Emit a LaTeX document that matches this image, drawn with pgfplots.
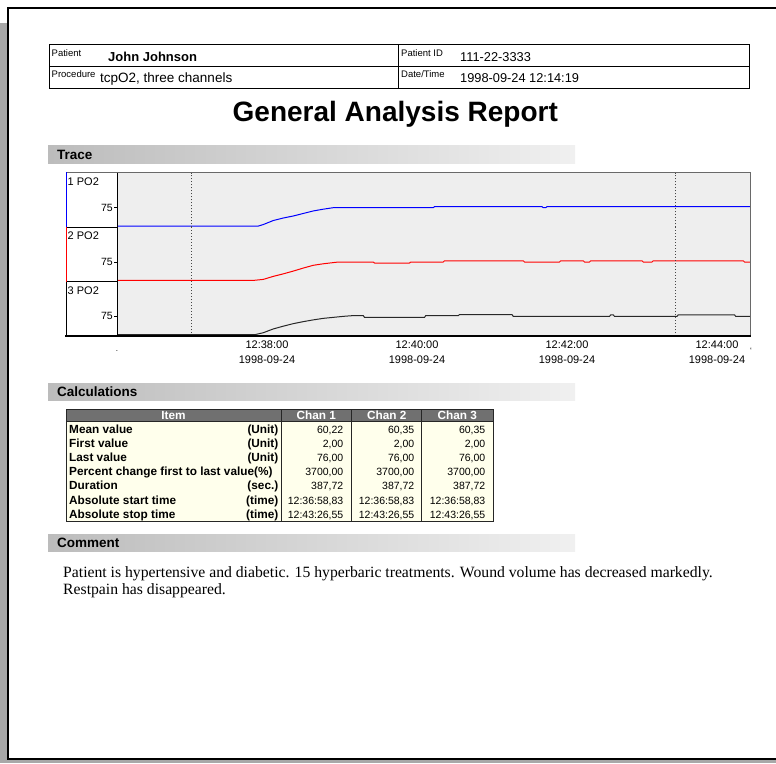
\documentclass[border=0pt]{standalone}
\usepackage{pgfplots}
\pgfplotsset{compat=1.18}
\usepackage{fontspec}
\setmainfont{Liberation Sans}
\newfontfamily\timesf{Liberation Serif}
\definecolor{shadow}{RGB}{168,168,168}
\definecolor{plotbg}{RGB}{238,238,238}
\definecolor{barL}{RGB}{188,188,188}
\definecolor{barR}{RGB}{240,240,240}
\definecolor{thead}{RGB}{112,112,112}
\definecolor{tbody}{RGB}{255,255,236}
\definecolor{frameg}{RGB}{105,105,105}
\definecolor{dotc}{RGB}{70,70,70}
\definecolor{trblue}{RGB}{0,0,255}
\definecolor{trred}{RGB}{255,0,0}
\definecolor{trblack}{RGB}{40,40,40}
\newcommand\fs[1]{\fontsize{#1}{#1}\selectfont}
% one row of the calculations table: y, label, unit, chan1, chan2, chan3
\newcommand\calcrow[6]{%
  \node[anchor=base west, inner sep=0] at (69,#1) {\fs{11.8}\bfseries #2};
  \node[anchor=base east, inner sep=0] at (278.5,#1) {\fs{11.8}\bfseries #3};
  \node[anchor=base east, inner sep=0] at (343.5,#1) {\fs{10.5}#4};
  \node[anchor=base east, inner sep=0] at (414.5,#1) {\fs{10.5}#5};
  \node[anchor=base east, inner sep=0] at (485.5,#1) {\fs{10.5}#6};
}
\pgfplotsset{
  /pgf/number format/assume math mode=true,
  band/.style={scale only axis, width=633pt, height=54.67pt,
    xmin=0, xmax=506.4, ymin=-3, ymax=214,
    axis line style={draw=none}, axis background/.style={fill=plotbg},
    ytick={75}, ytick pos=left, tick align=outside, major tick length=3pt,
    every tick/.style={black, line width=0.7pt},
    yticklabel style={font=\fs{10.5}, inner sep=1pt},
    xtick=\empty, clip=true},
}
\begin{document}
\begin{tikzpicture}
\path[use as bounding box] (0pt,0pt) rectangle (776pt,-763pt);
\clip (0pt,0pt) rectangle (776pt,-763pt);
\begin{scope}[x=1pt,y=-1pt]
  \fill[white] (0,0) rectangle (776,763);
  \fill[shadow] (0,23) rectangle (776,763);
  \fill[white] (8.2,8) rectangle (790,758.5);
  % section bars
  \shade[left color=barL, right color=barR] (48,145) rectangle (575,163);
  \shade[left color=barL, right color=barR] (48,383) rectangle (575,400);
  \shade[left color=barL, right color=barR] (48,534) rectangle (575,551);
\end{scope}

% ---------- traces ----------
\begin{axis}[band, at={(117pt,-227.33pt)}, anchor=south west]
  \addplot[trblue, line width=1pt] coordinates {
    (0,2) (113,2) (117,8) (125,24) (133,34) (141,42) (149,52) (157,62) (165,69) (173,75)
    (253,75) (254,79) (340,79) (341,75) (343,75) (344,79) (506.4,79)};
  \addplot[dotc, line width=0.8pt, dash pattern=on 1pt off 2pt] coordinates {(59.2,-3) (59.2,214)};
  \addplot[dotc, line width=0.8pt, dash pattern=on 1pt off 2pt] coordinates {(446.4,-3) (446.4,214)};
\end{axis}
\begin{axis}[band, at={(117pt,-281.67pt)}, anchor=south west]
  \addplot[trred, line width=1pt] coordinates {
    (0,2) (109,2) (117,6) (125,18) (133,28) (141,39) (149,51) (157,62) (165,68) (177,75)
    (205,75) (206,71) (234,71) (235,75) (261,75) (262,80) (325,80) (326,75) (354,75) (355,80)
    (373,80) (374,75) (378,75) (379,80) (420,80) (421,75) (428,75) (429,80) (501,80) (502,75) (506.4,75)};
  \addplot[dotc, line width=0.8pt, dash pattern=on 1pt off 2pt] coordinates {(59.2,-3) (59.2,214)};
  \addplot[dotc, line width=0.8pt, dash pattern=on 1pt off 2pt] coordinates {(446.4,-3) (446.4,214)};
\end{axis}
\begin{axis}[band, at={(117pt,-336pt)}, anchor=south west,
    xtick={120,240,360,480},
    xticklabels={{12:38:00\\1998-09-24},{12:40:00\\1998-09-24},{12:42:00\\1998-09-24},{12:44:00\\1998-09-24}},
    xticklabel style={align=center, font=\fontsize{11}{15.4}\selectfont, inner sep=0pt, yshift=-1.5pt},
    xtick style={draw=none}]
  \addplot[trblack, line width=1pt] coordinates {
    (0,2) (110,2) (117,10) (125,25) (133,36) (141,46) (149,54) (157,61) (165,67) (173,71)
    (181,75) (189,78) (197,78) (198,71) (246,71) (247,78) (273,78) (274,82) (316,82) (317,75)
    (394,75) (395,81) (397,81) (398,75) (448,75) (449,81) (494,81) (495,75) (506.4,75)};
  \addplot[dotc, line width=0.8pt, dash pattern=on 1pt off 2pt] coordinates {(59.2,-3) (59.2,214)};
  \addplot[dotc, line width=0.8pt, dash pattern=on 1pt off 2pt] coordinates {(446.4,-3) (446.4,214)};
\end{axis}

\begin{scope}[x=1pt,y=-1pt]
  % page border
  \draw[black, line width=2pt] (8.2,8) rectangle (790,758.5);
  % header table
  \draw[line width=0.8pt] (49,44) rectangle (749,88);
  \draw[line width=0.8pt] (49,66) -- (749,66);
  \draw[line width=0.8pt] (398,44) -- (398,88);
  \node[anchor=base west, inner sep=0] at (51.5,56.3) {\fs{9.5}Patient};
  \node[anchor=base west, inner sep=0] at (108,61) {\fs{13}\bfseries John Johnson};
  \node[anchor=base west, inner sep=0] at (51.5,77) {\fs{9.5}Procedure};
  \node[anchor=base west, inner sep=0] at (100,82) {\fs{13.5}tcpO2, three channels};
  \node[anchor=base west, inner sep=0] at (401,56.3) {\fs{9.5}Patient ID};
  \node[anchor=base west, inner sep=0] at (460,61) {\fs{12.8}111-22-3333};
  \node[anchor=base west, inner sep=0] at (401,77) {\fs{9.5}Date/Time};
  \node[anchor=base west, inner sep=0] at (460,82) {\fs{12.8}1998-09-24 12:14:19};
  % title
  \node[anchor=base, inner sep=0] at (395.3,121) {\fs{28}\bfseries General Analysis Report};
  % section titles
  \node[anchor=base west, inner sep=0] at (57,159.5) {\fs{13.5}\bfseries Trace};
  \node[anchor=base west, inner sep=0] at (57,396) {\fs{13.5}\bfseries Calculations};
  \node[anchor=base west, inner sep=0] at (57,547) {\fs{13.5}\bfseries Comment};
  % trace frame
  \draw[frameg, line width=1pt] (66,172.5) -- (750,172.5) -- (750,336);
  \draw[black, line width=1pt] (117,172.5) -- (117,336);
  \draw[black, line width=1pt] (66,227.33) -- (117,227.33);
  \draw[black, line width=1pt] (66,281.67) -- (117,281.67);
  \draw[black, line width=2pt] (65,336) -- (750.5,336);
  \draw[trblue, line width=1.5pt] (66.5,172) -- (66.5,227.33);
  \draw[trred, line width=1.5pt] (66.5,227.33) -- (66.5,281.67);
  \draw[black, line width=1.5pt] (66.5,281.67) -- (66.5,336);
  \node[anchor=base west, inner sep=0] at (67.5,185.7) {\fs{11}1 PO2};
  \node[anchor=base west, inner sep=0] at (67.5,239.5) {\fs{11}2 PO2};
  \node[anchor=base west, inner sep=0] at (67.5,294) {\fs{11}3 PO2};
  \node[inner sep=0] at (117,351) {\fs{8}.};
  \node[inner sep=0] at (751,351) {\fs{8}`};
  % calculations table
  \fill[tbody] (66,421) rectangle (493,521);
  \fill[thead] (66,409) rectangle (493,421);
  \draw[black!85, line width=0.8pt] (66,409) rectangle (493,521);
  \draw[black!85, line width=0.8pt] (66,421) -- (493,421);
  \draw[black!85, line width=0.8pt] (281,409) -- (281,521);
  \draw[black!85, line width=0.8pt] (351.7,409) -- (351.7,521);
  \draw[black!85, line width=0.8pt] (421.7,409) -- (421.7,521);
  \node[anchor=base, inner sep=0, text=white] at (173.5,419.3) {\fs{11.8}\bfseries Item};
  \node[anchor=base, inner sep=0, text=white] at (316.3,419.3) {\fs{11.8}\bfseries Chan 1};
  \node[anchor=base, inner sep=0, text=white] at (386.7,419.3) {\fs{11.8}\bfseries Chan 2};
  \node[anchor=base, inner sep=0, text=white] at (457.3,419.3) {\fs{11.8}\bfseries Chan 3};
  \calcrow{433}{Mean value}{(Unit)}{60,22}{60,35}{60,35}
  \calcrow{447.2}{First value}{(Unit)}{2,00}{2,00}{2,00}
  \calcrow{461.4}{Last value}{(Unit)}{76,00}{76,00}{76,00}
  \calcrow{475.6}{Percent change first to last value(\%)}{}{3700,00}{3700,00}{3700,00}
  \calcrow{489.8}{Duration}{(sec.)}{387,72}{387,72}{387,72}
  \calcrow{504}{Absolute start time}{(time)}{12:36:58,83}{12:36:58,83}{12:36:58,83}
  \calcrow{518.2}{Absolute stop time}{(time)}{12:43:26,55}{12:43:26,55}{12:43:26,55}
  % comment
  \node[anchor=base west, inner sep=0] at (63,577) {\timesf\fs{15.7}Patient is hypertensive and diabetic. 15 hyperbaric treatments. Wound volume has decreased markedly.};
  \node[anchor=base west, inner sep=0] at (63,594) {\timesf\fs{15.7}Restpain has disappeared.};
\end{scope}
\end{tikzpicture}
\end{document}
